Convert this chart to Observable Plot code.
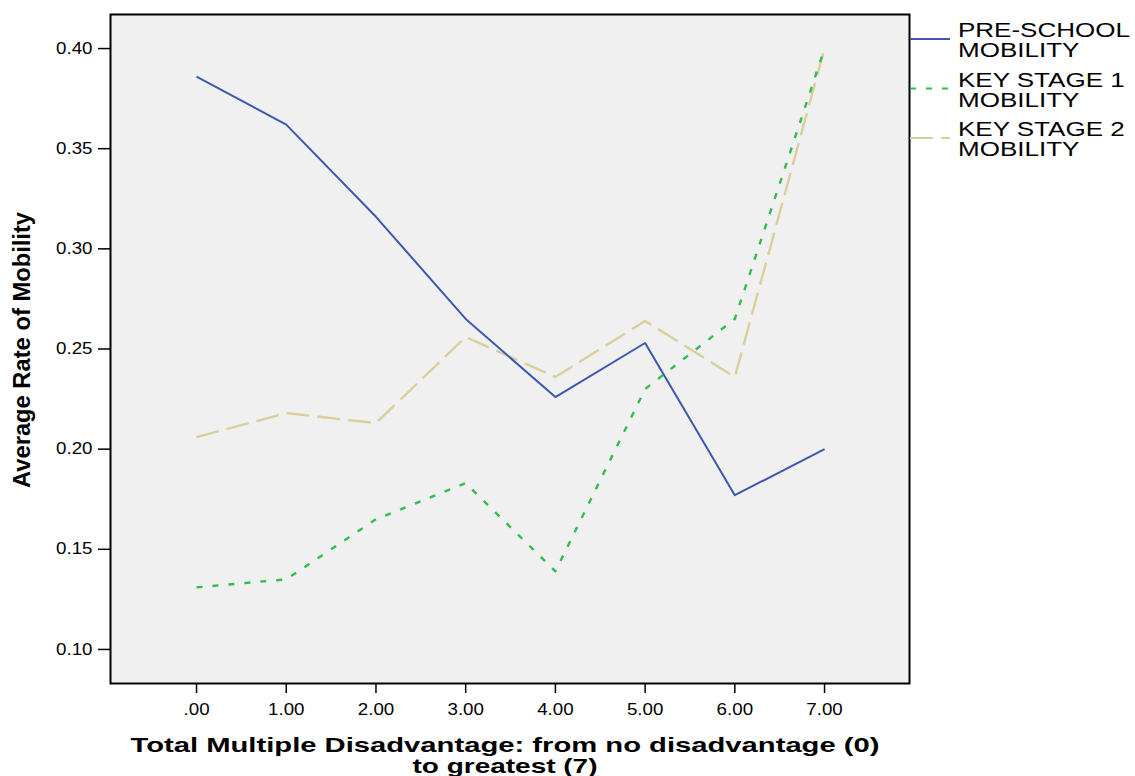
<!DOCTYPE html>
<html><head><meta charset="utf-8">
<script src="https://cdn.jsdelivr.net/npm/d3@7"></script>
<script src="https://cdn.jsdelivr.net/npm/@observablehq/plot@0.6"></script>
<style>body{margin:0;background:#fff;} svg{display:block;}</style>
</head><body><div id="chart"></div>
<script>
const xValues = [0, 1, 2, 3, 4, 5, 6, 7];
const xTickLabels = [".00", "1.00", "2.00", "3.00", "4.00", "5.00", "6.00", "7.00"];
const yTicks = [0.10, 0.15, 0.20, 0.25, 0.30, 0.35, 0.40];
const preSchool = [0.386, 0.362, 0.316, 0.265, 0.226, 0.253, 0.177, 0.200];
const keyStage1 = [0.131, 0.135, 0.165, 0.183, 0.139, 0.230, 0.265, 0.400];
const keyStage2 = [0.206, 0.218, 0.213, 0.256, 0.236, 0.264, 0.236, 0.400];
const seriesNames = ["PRE-SCHOOL MOBILITY", "KEY STAGE 1 MOBILITY", "KEY STAGE 2 MOBILITY"];
const legendLabels = [["PRE-SCHOOL", "MOBILITY"], ["KEY STAGE 1", "MOBILITY"], ["KEY STAGE 2", "MOBILITY"]];
const yTitle = "Average Rate of Mobility";
const xTitleLines = ["Total Multiple Disadvantage: from no disadvantage (0)", "to greatest (7)"];

const seriesValues = [preSchool, keyStage1, keyStage2];
const colors = ["#3e57ad", "#30bd4d", "#d8cf9b"];
const dashes = [null, "6,10", "23,8"];
const widths = [2, 2.4, 2.4];

const rows = [];
seriesNames.forEach((s, i) => xValues.forEach((x, j) => rows.push({series: s, x, y: seriesValues[i][j]})));

const lineMarks = [2, 1, 0].map(i => Plot.line(rows.filter(r => r.series === seriesNames[i]), {
  x: "x", y: "y", stroke: colors[i], strokeWidth: widths[i], strokeDasharray: dashes[i] || undefined,
  strokeLinejoin: "round", strokeLinecap: "butt"
}));

const chart = Plot.plot({
  width: 1135, height: 776,
  marginLeft: 110, marginRight: 226, marginTop: 14, marginBottom: 93,
  style: {fontFamily: "'Liberation Sans', Arial, sans-serif", fontSize: "16px", background: "#fff", color: "#000"},
  x: {domain: [-0.959, 7.947]},
  y: {domain: [0.083, 0.417]},
  marks: [
    Plot.frame({fill: "#f0f0f0"}),
    ...lineMarks,
    Plot.frame({stroke: "#000", strokeWidth: 2}),
    Plot.axisY({ticks: yTicks, tickFormat: d3.format(".2f"), tickSize: 12, tickPadding: 6, label: null, strokeWidth: 1.5}),
    Plot.axisX({ticks: xValues, tickFormat: d => xTickLabels[xValues.indexOf(d)], tickSize: 10, tickPadding: 10, label: null, strokeWidth: 1.5})
  ]
});
document.getElementById("chart").appendChild(chart);

const svg = d3.select(chart);
function stretch(el, factor) {
  const w = el.getComputedTextLength();
  el.setAttribute("textLength", w * factor);
  el.setAttribute("lengthAdjust", "spacingAndGlyphs");
}
chart.querySelectorAll('[aria-label="y-axis tick label"] text, [aria-label="x-axis tick label"] text').forEach(t => stretch(t, 1.17));

// legend
const lg = svg.append("g").attr("font-family", "'Liberation Sans', Arial, sans-serif").attr("font-size", 20)
  .attr("fill", "#000").attr("text-anchor", "start");
legendLabels.forEach((lines, i) => {
  const yLine = 39 + i * 49.5;
  lg.append("line").attr("x1", 910).attr("x2", 950).attr("y1", yLine).attr("y2", yLine)
    .attr("stroke", colors[i]).attr("stroke-width", 2).attr("stroke-dasharray", dashes[i]);
  lines.forEach((txt, k) => {
    const t = lg.append("text").attr("x", 958).attr("y", yLine - 2 + k * 20).attr("text-anchor", "start").text(txt);
    stretch(t.node(), 1.3);
  });
});

// y title
svg.append("text")
  .attr("transform", "translate(30,350) scale(1.3,1) rotate(-90)")
  .attr("text-anchor", "middle").attr("font-weight", "bold").attr("font-size", 18)
  .attr("font-family", "'Liberation Sans', Arial, sans-serif")
  .attr("textLength", 276).attr("lengthAdjust", "spacingAndGlyphs")
  .text(yTitle);

// x title
const xtWidths = [749, 185];
xTitleLines.forEach((txt, k) => {
  svg.append("text").attr("x", 505).attr("y", 752 + k * 21)
    .attr("text-anchor", "middle").attr("font-weight", "bold").attr("font-size", 21)
    .attr("font-family", "'Liberation Sans', Arial, sans-serif")
    .attr("textLength", xtWidths[k]).attr("lengthAdjust", "spacingAndGlyphs")
    .text(txt);
});
</script>
</body></html>
